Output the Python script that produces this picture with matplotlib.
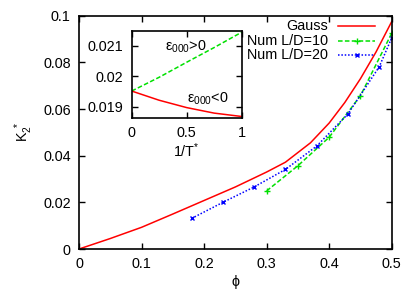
import matplotlib
matplotlib.use("Agg")
import matplotlib.pyplot as plt
from matplotlib.lines import Line2D

plt.rcParams['font.family'] = ['Liberation Sans', 'DejaVu Sans']
plt.rcParams['mathtext.fontset'] = 'custom'
plt.rcParams['mathtext.rm'] = 'Liberation Sans'
plt.rcParams['mathtext.it'] = 'Liberation Sans'

# main panel data
gauss_phi = [0.0, 0.05, 0.1, 0.15, 0.2, 0.25, 0.3, 0.33, 0.37, 0.4, 0.425, 0.45, 0.475, 0.5]
gauss_k2 = [0.0, 0.0045, 0.0093, 0.0150, 0.0208, 0.0266, 0.0330, 0.0372, 0.0455,
            0.0540, 0.0628, 0.0730, 0.0845, 0.0975]

ld10_phi = [0.30, 0.35, 0.40, 0.45, 0.50]
ld10_k2 = [0.0249, 0.0357, 0.0479, 0.0657, 0.0925]

ld20_phi = [0.18, 0.23, 0.28, 0.33, 0.38, 0.43, 0.48, 0.50]
ld20_k2 = [0.0131, 0.0200, 0.0266, 0.0341, 0.0441, 0.0579, 0.0781, 0.0905]

# inset data
inv_t = [0.0, 0.25, 0.5, 0.75, 1.0]
k2_pos = [0.01952, 0.01997, 0.02046, 0.02094, 0.02144]
k2_neg = [0.01952, 0.01922, 0.01898, 0.01880, 0.01869]

red, green, blue = "#ff0000", "#00e000", "#0000ff"
fs = 10.4

fig = plt.figure(figsize=(4.15, 2.91), dpi=100)
ax = fig.add_axes([0.1904, 0.1443, 0.7535, 0.8017])

ax.plot(gauss_phi, gauss_k2, color=red, lw=1.1)
ax.plot(ld10_phi, ld10_k2, color=green, lw=1.1, ls=(0, (3, 1.5)), marker="+", ms=4, mew=1)
ax.plot(ld20_phi, ld20_k2, color=blue, lw=1.1, ls=(0, (1, 1.2)), marker="x", ms=3.5, mew=1)

ax.set_xlim(0, 0.5)
ax.set_ylim(0, 0.1)
ax.set_xticks([0, 0.1, 0.2, 0.3, 0.4, 0.5], ["0", "0.1", "0.2", "0.3", "0.4", "0.5"])
ax.set_yticks([0, 0.02, 0.04, 0.06, 0.08, 0.1], ["0", "0.02", "0.04", "0.06", "0.08", "0.1"])
ax.tick_params(direction="in", top=True, right=True, length=4, width=1, labelsize=fs, pad=6)
for s in ax.spines.values():
    s.set_linewidth(1.2)
ax.set_xlabel(r"$\phi$", fontsize=fs, labelpad=1)
ax.set_ylabel(r"K$_2^{\ *}$", fontsize=fs, labelpad=6)

# gnuplot-like legend: text right-aligned, sample after
labels = ["Gauss", "Num L/D=10", "Num L/D=20"]
styles = [dict(color=red, ls="-", marker=None),
          dict(color=green, ls=(0, (3, 1.5)), marker="+", ms=4, mew=1),
          dict(color=blue, ls=(0, (1, 1.2)), marker="x", ms=3.5, mew=1)]
for i, (lab, st) in enumerate(zip(labels, styles)):
    yy = 0.955 - i * 0.062
    ax.text(0.797, yy, lab, transform=ax.transAxes, ha="right", va="center", fontsize=fs)
    ax.add_line(Line2D([0.829, 0.947], [yy, yy], transform=ax.transAxes, lw=1.1,
                       **{k: v for k, v in st.items() if k != "marker"}))
    if st["marker"]:
        ax.add_line(Line2D([0.888], [yy], transform=ax.transAxes, color=st["color"],
                           marker=st["marker"], ms=st["ms"], mew=st["mew"], ls="none"))

# inset
ins = fig.add_axes([0.3173, 0.5955, 0.265, 0.298])
ins.plot(inv_t, k2_pos, color=green, lw=1.1, ls=(0, (3, 1.5)))
ins.plot(inv_t, k2_neg, color=red, lw=1.1)
ins.set_xlim(0, 1)
ins.set_ylim(0.01865, 0.02148)
ins.set_xticks([0, 0.5, 1], ["0", "0.5", "1"])
ins.set_yticks([0.019, 0.02, 0.021], ["0.019", "0.02", "0.021"])
ins.tick_params(direction="in", top=True, right=True, length=4, width=1, labelsize=fs, pad=6)
for s in ins.spines.values():
    s.set_linewidth(1.2)
ins.set_xlabel(r"1/T$^{*}$", fontsize=fs, labelpad=1)
ins.text(0.30, 0.02097, r"ε$_{000}$>0", fontsize=fs, va="center")
ins.text(0.50, 0.01928, r"ε$_{000}$<0", fontsize=fs, va="center")

fig.savefig("out.png", dpi=100)
